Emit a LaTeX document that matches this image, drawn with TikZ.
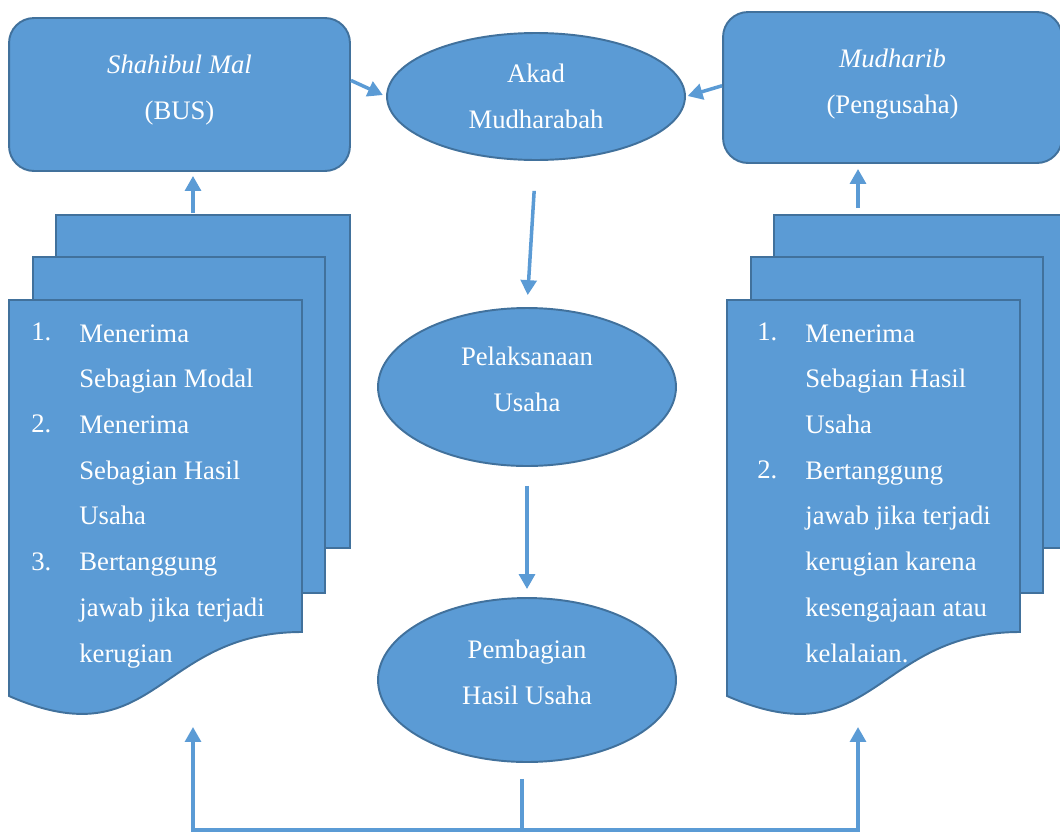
\documentclass[tikz,border=0pt]{standalone}
\usepackage{fontspec}
\setmainfont{Liberation Serif}
\usetikzlibrary{calc,shapes.geometric,arrows.meta
}
\definecolor{boxblue}{HTML}{5B9BD5}
\definecolor{edgeblue}{HTML}{41719C}
\tikzset{
blockbox/.style={draw=edgeblue, fill=boxblue, line width=1.1pt, rounded corners=0.5cm, text=white, align=center, inner sep=0pt, text depth=8pt},
oval/.style={ellipse, draw=edgeblue, fill=boxblue, line width=1.1pt, text=white, align=center, inner sep=0pt, minimum width=5.96cm},
sheet/.style={draw=edgeblue, fill=boxblue, line width=1.1pt},
listtext/.style={text=white, inner sep=0pt, anchor=base west, align=left},
conn/.style={draw=boxblue, line width=2pt, -{Triangle[width=9pt,length=8.5pt]}}
}
\begin{document}
\begin{tikzpicture}[x=0.02cm, y=-0.02cm, font=\fontsize{15.2}{26}\selectfont]
\useasboundingbox (0,0) rectangle (1060,832);
\foreach \dx in {0, 718} {
\draw[sheet] ({56+\dx},215) rectangle ({350+\dx},548);
\draw[sheet] ({33+\dx},257) rectangle ({325+\dx},593);
\draw[sheet] ({9+\dx},300) -- ({302+\dx},300) -- ({302+\dx},632)
.. controls ({156+\dx},632) and ({156+\dx},760) .. ({9+\dx},696) -- cycle;
}
\node[blockbox, minimum width=6.82cm, minimum height=3.06cm] (shahib) at (179.5,94.5) {\textit{Shahibul Mal}\\(BUS)};
\node[blockbox, minimum width=6.78cm, minimum height=3.02cm, text depth=7pt] (mudh) at (892.5,87.5) {\textit{Mudharib}\\(Pengusaha)};
\node[oval, minimum height=2.54cm] (akad) at (536,96.5) {Akad\\Mudharabah};
\node[oval, minimum height=3.16cm, text depth=9pt] (pelak) at (527,387) {Pelaksanaan\\Usaha};
\node[oval, minimum height=3.28cm, text depth=9pt] (bagi) at (527,680) {Pembagian\\Hasil Usaha};
% the base of a list is its last line
\node[listtext] (lnote) at (79,662) {Menerima\\Sebagian Modal\\Menerima\\Sebagian Hasil\\Usaha\\Bertanggung\\jawab jika terjadi\\kerugian};
\foreach \num/\row in {1/0, 2/2, 3/5}
\node[listtext] (lnum\num) at (31,{340+46*\row}) {\num.};
\node[listtext] (rnote) at (805,662) {Menerima\\Sebagian Hasil\\Usaha\\Bertanggung\\jawab jika terjadi\\kerugian karena\\kesengajaan atau\\kelalaian.};
\foreach \num/\row in {1/0, 2/3}
\node[listtext] (rnum\num) at (757,{340+46*\row}) {\num.};
\coordinate (ltop) at (193,215);
\coordinate (rtop) at (858,215);
\coordinate (split) at (522,830);
\coordinate (ltip) at (193,727);
\coordinate (rtip) at (858,727);
\draw[conn, shorten >=2pt] ([yshift=8pt]shahib.east) -- (akad.west);
\draw[conn, shorten >=1pt] ([yshift=1pt]mudh.west) -- (akad.east);
\draw[conn, shorten <=0.6cm, shorten >=0.24cm] (akad.south) -- (pelak.north);
\draw[conn, shorten <=0.38cm, shorten >=0.16cm] (pelak.south) -- (bagi.north);
\draw[conn, shorten <=0.04cm, shorten >=0.08cm] (ltop) -- (ltop |- shahib.south);
\draw[conn, shorten <=0.14cm, shorten >=0.1cm] (rtop) -- (rtop |- mudh.south);
\draw[conn, -, shorten <=0.32cm] (bagi.south -| split) -- (split);
\draw[conn] (split) -| (ltip);
\draw[conn] (split) -| (rtip);
\end{tikzpicture}
\end{document}
